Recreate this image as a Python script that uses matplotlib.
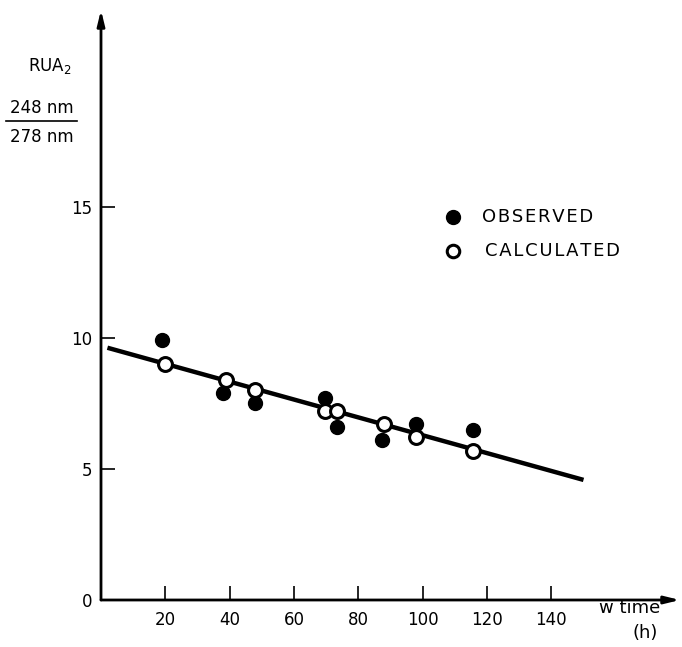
import matplotlib
matplotlib.use("Agg")
import matplotlib.pyplot as plt

# Data
time_h = [19, 38, 48, 69.5, 73.5, 87.5, 98, 115.5]
observed = [9.9, 7.9, 7.5, 7.7, 6.6, 6.1, 6.7, 6.5]
calc_time = [20, 39, 48, 69.5, 73.5, 88, 98, 115.5]
calculated = [9.0, 8.4, 8.0, 7.2, 7.2, 6.7, 6.2, 5.7]
fit_x = [2, 150]
fit_y = [9.62, 4.58]
x_ticks = [20, 40, 60, 80, 100, 120, 140]
y_ticks = [0, 5, 10, 15]

plt.rcParams['font.family'] = ['DejaVu Sans']

fig = plt.figure(figsize=(6.82, 6.47), dpi=100)
ax = fig.add_axes([101/682, 47/647, 579/682, 590/647])
ax.set_xlim(0, 180)
ax.set_ylim(0, 22.5)
for s in ax.spines.values():
    s.set_visible(False)

# axes with arrow heads
ax.annotate('', xy=(1.0, 0), xytext=(0, 0), xycoords='axes fraction',
            arrowprops=dict(arrowstyle='-|>,head_length=0.9,head_width=0.22',
                            color='black', lw=2, shrinkA=0, shrinkB=0))
ax.annotate('', xy=(0, 1.0), xytext=(0, 0), xycoords='axes fraction',
            arrowprops=dict(arrowstyle='-|>,head_length=0.9,head_width=0.22',
                            color='black', lw=2, shrinkA=0, shrinkB=0))

ax.set_xticks(x_ticks)
ax.set_xticklabels([str(v) for v in x_ticks])
ax.set_yticks(y_ticks)
ax.set_yticklabels([str(v) for v in y_ticks])
ax.tick_params(axis='x', direction='in', length=10, width=1.2, labelsize=12, pad=8)
ax.tick_params(axis='y', direction='in', length=10, width=1.2, labelsize=12, pad=6)
ax.yaxis.get_major_ticks()[0].tick1line.set_visible(False)

# fit line
ax.plot(fit_x, fit_y, color='black', lw=3.2, solid_capstyle='butt', zorder=2)
# observed (filled)
ax.plot(time_h, observed, 'o', color='black', markersize=10, zorder=3, linestyle='none')
# calculated (open)
ax.plot(calc_time, calculated, 'o', markerfacecolor='white', markeredgecolor='black',
        markeredgewidth=2.2, markersize=10, zorder=4, linestyle='none')

# legend drawn as markers and text
ax.plot([109.3], [14.6], 'o', color='black', markersize=10, clip_on=False)
ax.plot([109.3], [13.3], 'o', markerfacecolor='white', markeredgecolor='black',
        markeredgewidth=2.2, markersize=9, clip_on=False)
ax.text(118.3, 14.6, '\u200a'.join('OBSERVED'), fontsize=13, va='center', ha='left')
ax.text(119.5, 13.3, '\u200a'.join('CALCULATED'), fontsize=13, va='center', ha='left')

# y-axis label
fig.text(50/682, 1 - 66/647, 'RUA$_2$', fontsize=12, ha='center', va='center')
fig.text(42/682, 1 - 108/647, '248 nm', fontsize=12, ha='center', va='center')
fig.add_artist(plt.Line2D([6/682, 77/682], [1 - 121/647, 1 - 121/647],
                          color='black', lw=1.2, transform=fig.transFigure))
fig.text(42/682, 1 - 137/647, '278 nm', fontsize=12, ha='center', va='center')

# x-axis label
fig.text(630/682, 1 - 608/647, 'w time', fontsize=13, ha='center', va='center')
fig.text(645/682, 1 - 633/647, '(h)', fontsize=13, ha='center', va='center')

fig.savefig('out.png', dpi=100)
